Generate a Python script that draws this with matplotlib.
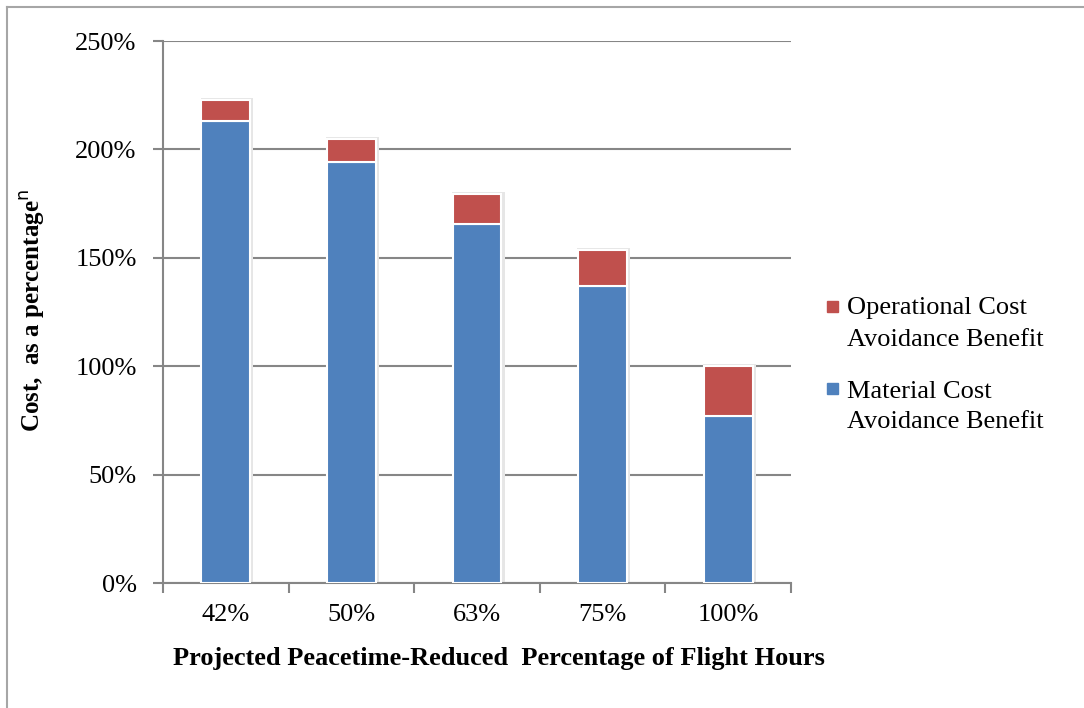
import numpy as np
import matplotlib.pyplot as plt
from matplotlib.lines import Line2D
from matplotlib.patches import Rectangle

plt.rcParams['font.family'] = ['Liberation Serif', 'DejaVu Serif']

# data
categories = ['42%', '50%', '63%', '75%', '100%']
material = [213.0, 194.0, 165.6, 137.0, 77.0]
operational = [9.8, 11.0, 13.8, 16.6, 23.0]
yticks = [0, 50, 100, 150, 200, 250]
legend_labels = [['Operational Cost', 'Avoidance Benefit'],
                 ['Material Cost', 'Avoidance Benefit']]

blue = '#4F81BD'
red = '#C0504D'
grid_c = '#868686'

W, H = 1084, 708
fig = plt.figure(figsize=(W / 100, H / 100), dpi=100)
ax = fig.add_axes([163 / W, 1 - 583 / H, (791 - 163) / W, (583 - 41) / H])

x = np.arange(len(categories))
totals = np.array(material) + np.array(operational)
# soft shadow around the bars
ax.bar(x + 0.01, totals + 0.8, width=0.42, color='#e6e6e6', edgecolor='none', zorder=2)
ax.bar(x, material, width=0.39, color=blue, edgecolor='white', linewidth=1.5, zorder=3)
ax.bar(x, operational, width=0.39, bottom=material, color=red,
       edgecolor='white', linewidth=1.5, zorder=3)

ax.set_xlim(-0.5, len(categories) - 0.5)
ax.set_ylim(0, 250)
ax.set_yticks(yticks)
ax.set_yticklabels([f'{v}%' for v in yticks], fontsize=19)
ax.yaxis.grid(True, color=grid_c, linewidth=1.5, zorder=0)
ax.set_axisbelow(True)

ax.set_xticks(x)
ax.set_xticklabels(categories, fontsize=19)
ax.set_xticks(np.arange(len(categories) + 1) - 0.5, minor=True)
ax.tick_params(axis='x', which='major', length=0, pad=15)
ax.tick_params(axis='x', which='minor', length=7, color=grid_c, width=1.5)
ax.tick_params(axis='y', length=7, color=grid_c, width=1.5, pad=12)

for s in ['top', 'right']:
    ax.spines[s].set_visible(False)
for s in ['left', 'bottom']:
    ax.spines[s].set_color(grid_c)
    ax.spines[s].set_linewidth(1.5)

fig.text(499 / W, 1 - 656 / H, 'Projected Peacetime-Reduced  Percentage of Flight Hours',
         fontsize=19, fontweight='bold', ha='center', va='center_baseline')
fig.text(33 / W, 1 - 310 / H, r'Cost,  as a percentage$^{\mathrm{n}}$',
         rotation=90, fontsize=18, fontweight='bold', ha='center', va='center')

# legend, drawn by hand so the swatch sits on the first line of each label
colors = [red, blue]
line_y = [[306, 337], [389, 419]]
for col, lines, ys in zip(colors, legend_labels, line_y):
    fig.add_artist(Rectangle((827 / W, 1 - (ys[0] + 5.5) / H), 11 / W, 11 / H,
                             transform=fig.transFigure, color=col))
    for txt, yy in zip(lines, ys):
        fig.text(847 / W, 1 - yy / H, txt, fontsize=19, ha='left', va='center_baseline')

# outer frame lines (left and top edges of the chart area)
fig.add_artist(Line2D([7 / W, 7 / W], [0, 1 - 7 / H], color='#a6a6a6', lw=1.5))
fig.add_artist(Line2D([7 / W, 1], [1 - 7 / H, 1 - 7 / H], color='#a6a6a6', lw=1.5))

fig.savefig('out.png', dpi=100)
